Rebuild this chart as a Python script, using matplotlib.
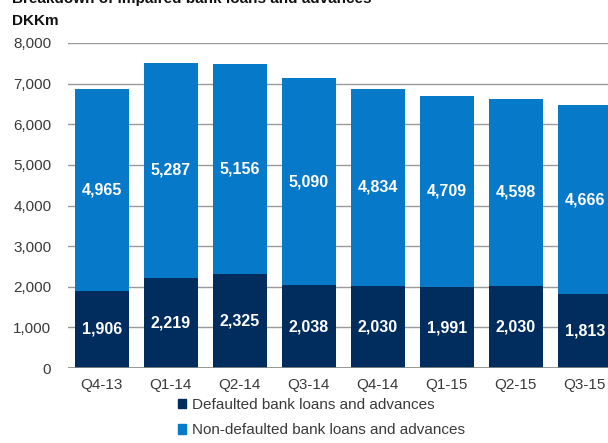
import matplotlib.pyplot as plt
import numpy as np
from matplotlib.patches import Patch

plt.rcParams['font.family'] = ['Liberation Sans', 'DejaVu Sans']

quarters = ["Q4-13", "Q1-14", "Q2-14", "Q3-14", "Q4-14", "Q1-15", "Q2-15", "Q3-15"]
defaulted = [1906, 2219, 2325, 2038, 2030, 1991, 2030, 1813]
non_defaulted = [4965, 5287, 5156, 5090, 4834, 4709, 4598, 4666]

dark = "#002d5e"
light = "#0679c9"
grey_text = "#3a3a3a"

W, H = 608, 443
fig = plt.figure(figsize=(W / 100, H / 100), dpi=100)
ax = fig.add_axes([68 / W, (H - 368) / H, (640 - 68) / W, 325 / H])

x = np.arange(len(quarters))
ax.bar(x, defaulted, width=0.78, color=dark, zorder=3)
ax.bar(x, non_defaulted, width=0.78, bottom=defaulted, color=light, zorder=3)

# white value labels centred in each segment
for xi, d, n in zip(x, defaulted, non_defaulted):
    ax.text(xi, d / 2, f"{d:,}", ha="center", va="center", color="white",
            fontsize=11.5, fontweight="bold", zorder=4)
    ax.text(xi, d + n / 2, f"{n:,}", ha="center", va="center", color="white",
            fontsize=11.5, fontweight="bold", zorder=4)

ax.set_xlim(-0.49, 7.8)
ax.set_ylim(0, 8000)
ax.set_yticks(np.arange(0, 8001, 1000))
ax.set_yticklabels([f"{v:,}" for v in range(0, 8001, 1000)])
ax.set_xticks(x)
ax.set_xticklabels(quarters)
ax.grid(axis="y", color="#9a9a9a", linewidth=1, zorder=0)
ax.axhline(0, color="#8a8a8a", linewidth=1.2, zorder=5)
for s in ax.spines.values():
    s.set_visible(False)
ax.tick_params(axis="both", length=0, labelsize=11, colors=grey_text)
ax.tick_params(axis="y", pad=12)
ax.tick_params(axis="x", pad=7)

fig.text(12 / W, (H - 3) / H, "Breakdown of impaired bank loans and advances",
         fontsize=11, fontweight="bold", ha="left", va="baseline", color="#111111")
fig.text(12 / W, (H - 25) / H, "DKKm", fontsize=11, fontweight="bold",
         ha="left", va="baseline", color="#111111")

handles = [Patch(color=dark, label="Defaulted bank loans and advances"),
           Patch(color=light, label="Non-defaulted bank loans and advances")]
fig.legend(handles=handles, loc="upper left", bbox_to_anchor=(178 / W, (H - 398) / H),
           frameon=False, fontsize=11, handlelength=0.55, handleheight=0.55,
           handletextpad=0.35, labelspacing=0.75, borderpad=0, borderaxespad=0,
           labelcolor=grey_text)

plt.savefig("out.png", dpi=100)
plt.close()
